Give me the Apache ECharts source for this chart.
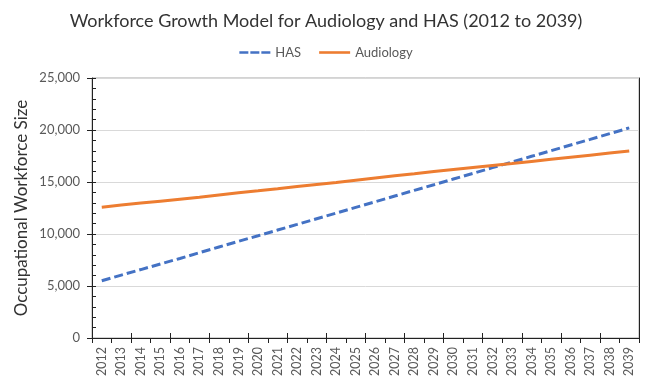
<!DOCTYPE html>
<html>
<head>
<meta charset="utf-8">
<script src="https://cdn.jsdelivr.net/npm/echarts@6/dist/echarts.min.js"></script>
<style>html,body{margin:0;padding:0;background:#fff}#c{width:652px;height:385px}</style>
</head>
<body>
<div id="c"></div>
<script>
var years = ['2012','2013','2014','2015','2016','2017','2018','2019','2020','2021','2022','2023','2024','2025','2026','2027','2028','2029','2030','2031','2032','2033','2034','2035','2036','2037','2038','2039'];
var hasValues = [5500, 6050, 6580, 7120, 7650, 8200, 8750, 9300, 9830, 10380, 10920, 11470, 12010, 12560, 13100, 13650, 14200, 14740, 15290, 15830, 16380, 16920, 17470, 18010, 18560, 19100, 19650, 20200];
var audiologyValues = [12570, 12780, 12970, 13160, 13350, 13540, 13760, 13960, 14150, 14350, 14560, 14760, 14960, 15170, 15380, 15590, 15790, 16000, 16200, 16400, 16590, 16780, 16980, 17180, 17380, 17580, 17780, 17980];
var titleText = 'Workforce Growth Model for Audiology and HAS (2012 to 2039)';
var yName = 'Occupational Workforce Size';

var font = 'Lato, "Open Sans", sans-serif';
var chart = echarts.init(document.getElementById('c'), null, {renderer: 'canvas'});
chart.setOption({
  animation: false,
  backgroundColor: '#fff',
  title: {
    text: titleText, left: 'center', top: 7,
    textStyle: {fontFamily: font, fontSize: 18, fontWeight: 'normal', color: '#333'}
  },
  legend: {
    top: 41, left: 'center', itemWidth: 31, itemHeight: 10, itemGap: 18,
    textStyle: {fontFamily: font, fontSize: 13, color: '#595959'},
    data: [
      {name: 'HAS', icon: 'path://M0,4h9v2.6h-9zM11,4h9v2.6h-9zM22,4h9v2.6h-9z'},
      {name: 'Audiology', icon: 'path://M0,4h31v2.6h-31z'}
    ]
  },
  grid: {left: 92, right: 13, top: 78, bottom: 47, show: true, borderColor: '#a6a6a6', borderWidth: 1},
  xAxis: [{
    type: 'category', data: years, boundaryGap: true,
    axisLine: {lineStyle: {color: '#222', width: 1}},
    axisTick: {show: true, length: 5, lineStyle: {color: '#222'}},
    axisLabel: {rotate: 90, interval: 0, fontFamily: font, fontSize: 12.5, color: '#595959', margin: 9}
  }, {
    type: 'category', data: years, boundaryGap: true, position: 'bottom',
    axisLine: {show: false}, axisLabel: {show: false},
    axisTick: {show: true, inside: true, length: 5, lineStyle: {color: '#222'}}
  }],
  yAxis: [{
    type: 'value', min: 0, max: 25000, interval: 5000,
    name: yName, nameLocation: 'middle', nameGap: 62, nameMoveOverlap: false,
    nameTextStyle: {fontFamily: font, fontSize: 17, color: '#333'},
    axisLine: {show: true, lineStyle: {color: '#222'}},
    axisTick: {show: true, length: 5, lineStyle: {color: '#222'}},
    axisLabel: {fontFamily: font, fontSize: 13, color: '#595959', margin: 12,
      formatter: function (v) { return v.toLocaleString('en-US'); }},
    splitLine: {lineStyle: {color: '#d9d9d9'}}
  }, {
    type: 'value', min: 0, max: 25000, interval: 1000, position: 'left',
    axisLine: {show: false}, axisLabel: {show: false}, splitLine: {show: false},
    axisTick: {show: true, inside: true, length: 4, lineStyle: {color: '#222'}}
  }, {
    type: 'value', min: 0, max: 25000, interval: 5000, position: 'right',
    axisLine: {show: true, lineStyle: {color: '#222'}}, axisLabel: {show: false},
    splitLine: {show: false}, axisTick: {show: false}
  }],
  series: [{
    name: 'HAS', type: 'line', data: hasValues, showSymbol: false, symbol: 'none',
    itemStyle: {color: '#4472C4'},
    lineStyle: {color: '#4472C4', width: 3, type: [9, 4]}
  }, {
    name: 'Audiology', type: 'line', data: audiologyValues, showSymbol: false, symbol: 'none',
    itemStyle: {color: '#ED7D31'},
    lineStyle: {color: '#ED7D31', width: 3}
  }]
});
</script>
</body>
</html>
